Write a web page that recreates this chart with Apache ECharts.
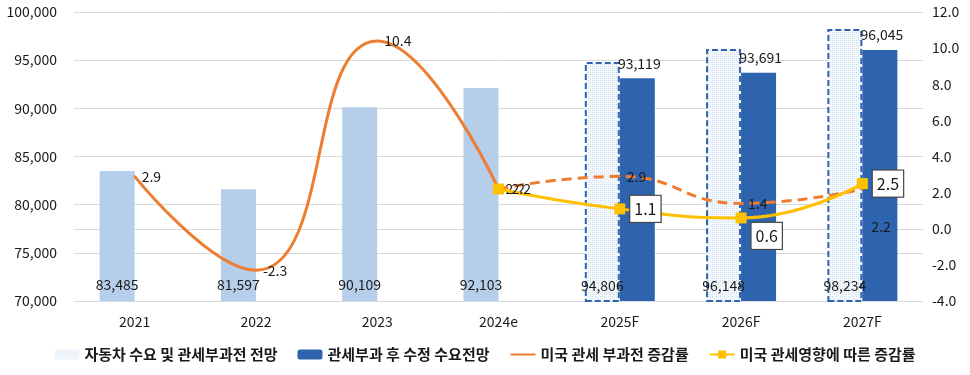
<!DOCTYPE html>
<html>
<head>
<meta charset="utf-8">
<script src="https://cdn.jsdelivr.net/npm/echarts@6/dist/echarts.min.js"></script>
<style>
html,body{margin:0;padding:0;background:#fff;}
#chart{width:970px;height:375px;}
</style>
</head>
<body>
<div id="chart"></div>
<script>
// ---- data ----
const categories = ['2021', '2022', '2023', '2024e', '2025F', '2026F', '2027F'];
const demandBeforeTariff = [83485, 81597, 90109, 92103, 94806, 96148, 98234];
const demandAfterTariff = [null, null, null, null, 93119, 93691, 96045];
const rateBeforeTariff = [2.9, -2.3, 10.4, 2.2, 2.9, 1.4, 2.2];
const rateAfterTariff = [null, null, null, 2.2, 1.1, 0.6, 2.5];
const leftTicks = { min: 70000, max: 100000, step: 5000 };
const rightTicks = { min: -4, max: 12, step: 2 };
const forecastFrom = 4;   // index of first forecast year
const actualUntil = 3;    // last index of the solid (pre-forecast) rate line
const seriesNames = ['자동차 수요 및 관세부과전 전망', '관세부과 후 수정 수요전망', '미국 관세 부과전 증감률', '미국 관세영향에 따른 증감률'];

// ---- styles ----
const FONT = '"Noto Sans CJK KR", "Noto Sans", sans-serif';
const LIGHT = '#b5cfea';
const DARK = '#2e63ad';
const ORANGE = '#ed7d31';
const GOLD = '#ffc000';
const TXT = '#1a1a1a';
const SMOOTH = 0.5;

// dotted pattern for forecast bars
const pc = document.createElement('canvas');
pc.width = 4; pc.height = 4;
const pctx = pc.getContext('2d');
pctx.fillStyle = '#f7fafd'; pctx.fillRect(0, 0, 4, 4);
pctx.fillStyle = '#c6daef';
pctx.fillRect(0, 0, 1, 1); pctx.fillRect(2, 2, 1, 1);
pctx.fillStyle = '#dde9f6';
pctx.fillRect(2, 0, 1, 1); pctx.fillRect(0, 2, 1, 1);
const PATTERN = { image: pc, repeat: 'repeat' };

const fmt = v => Number(v).toLocaleString('en-US');

const lightBars = demandBeforeTariff.map((v, i) => i < forecastFrom ? v : {
  value: v,
  itemStyle: { color: PATTERN, borderColor: DARK, borderWidth: 2, borderType: [6, 3] }
});

const rateSolid = rateBeforeTariff.map((v, i) => i <= actualUntil ? v : null);
const rateDashedLabelOverride = { 6: { offset: [2, 38] } };
const rateDashed = rateBeforeTariff.map((v, i) => {
  if (i < actualUntil) return null;
  if (i === actualUntil) return { value: v, label: { show: false } };
  return rateDashedLabelOverride[i] ? { value: v, label: rateDashedLabelOverride[i] } : v;
});
const boxLabelOverride = { 5: { offset: [0, 18] } };
const rateAfterItems = rateAfterTariff.map((v, i) => {
  if (v === null) return null;
  if (i === actualUntil) {
    return { value: v, label: { backgroundColor: 'transparent', borderWidth: 0, padding: 0, fontSize: 14, distance: 6, offset: [1.5, 0] } };
  }
  return boxLabelOverride[i] ? { value: v, label: boxLabelOverride[i] } : v;
});

const chart = echarts.init(document.getElementById('chart'));
chart.setOption({
  animation: false,
  textStyle: { fontFamily: FONT },
  grid: { left: 74, right: 47, top: 12, bottom: 74 },
  legend: {
    top: 342,
    left: 'center',
    itemWidth: 25,
    itemHeight: 10,
    itemGap: 20,
    textStyle: { fontSize: 15, color: TXT, fontFamily: FONT, fontWeight: 'bold' },
    data: [
      { name: seriesNames[0], itemStyle: { color: PATTERN, borderWidth: 0 } },
      { name: seriesNames[1] },
      { name: seriesNames[2], itemStyle: { opacity: 0 } },
      { name: seriesNames[3] }
    ]
  },
  xAxis: {
    type: 'category',
    data: categories,
    axisTick: { show: false },
    axisLine: { lineStyle: { color: '#d9d9d9' } },
    axisLabel: { color: TXT, fontSize: 14, margin: 14, fontFamily: FONT }
  },
  yAxis: [
    {
      type: 'value',
      min: leftTicks.min, max: leftTicks.max, interval: leftTicks.step,
      axisLine: { show: false }, axisTick: { show: false },
      splitLine: { lineStyle: { color: '#d9d9d9' } },
      axisLabel: { color: TXT, fontSize: 14, margin: 17, formatter: v => fmt(v), fontFamily: FONT }
    },
    {
      type: 'value',
      min: rightTicks.min, max: rightTicks.max, interval: rightTicks.step,
      axisLine: { show: false }, axisTick: { show: false },
      splitLine: { show: false },
      axisLabel: { color: TXT, fontSize: 14, margin: 9, formatter: v => v.toFixed(1), fontFamily: FONT }
    }
  ],
  series: [
    {
      name: seriesNames[0],
      type: 'bar',
      barWidth: 35,
      barGap: '0%',
      itemStyle: { color: LIGHT },
      label: {
        show: true, position: 'insideBottom', distance: 9,
        color: TXT, fontSize: 14, formatter: p => fmt(p.value), fontFamily: FONT
      },
      data: lightBars
    },
    {
      name: seriesNames[1],
      type: 'bar',
      barWidth: 35,
      barGap: '0%',
      itemStyle: { color: DARK },
      label: {
        show: true, position: 'top', distance: 8, offset: [2, 0],
        color: TXT, fontSize: 14, formatter: p => fmt(p.value), fontFamily: FONT
      },
      data: demandAfterTariff
    },
    {
      name: seriesNames[2],
      type: 'line',
      yAxisIndex: 1,
      smooth: SMOOTH,
      symbol: 'circle',
      symbolSize: 2,
      itemStyle: { color: ORANGE },
      lineStyle: { color: ORANGE, width: 3 },
      label: { show: true, position: 'right', distance: 6, color: TXT, fontSize: 14, fontFamily: FONT,
        formatter: p => p.value.toFixed(1) },
      data: rateSolid,
      z: 3
    },
    {
      name: 'rateDashed',
      type: 'line',
      yAxisIndex: 1,
      smooth: SMOOTH,
      symbol: 'circle',
      symbolSize: 2,
      itemStyle: { color: ORANGE },
      lineStyle: { color: ORANGE, width: 3, type: [10, 6] },
      label: { show: true, position: 'right', distance: 6, color: TXT, fontSize: 14, fontFamily: FONT,
        formatter: p => p.value.toFixed(1) },
      data: rateDashed,
      z: 3
    },
    {
      name: seriesNames[3],
      type: 'line',
      yAxisIndex: 1,
      smooth: SMOOTH,
      symbol: 'rect',
      symbolSize: 11,
      itemStyle: { color: GOLD },
      lineStyle: { color: GOLD, width: 3 },
      label: {
        show: true, position: 'right', distance: 5,
        color: TXT, fontSize: 16, fontFamily: FONT,
        backgroundColor: '#fff', borderColor: '#444', borderWidth: 1.2,
        padding: [6, 4, 4, 4],
        formatter: p => p.value.toFixed(1)
      },
      data: rateAfterItems,
      z: 4
    }
  ]
});
</script>
</body>
</html>
